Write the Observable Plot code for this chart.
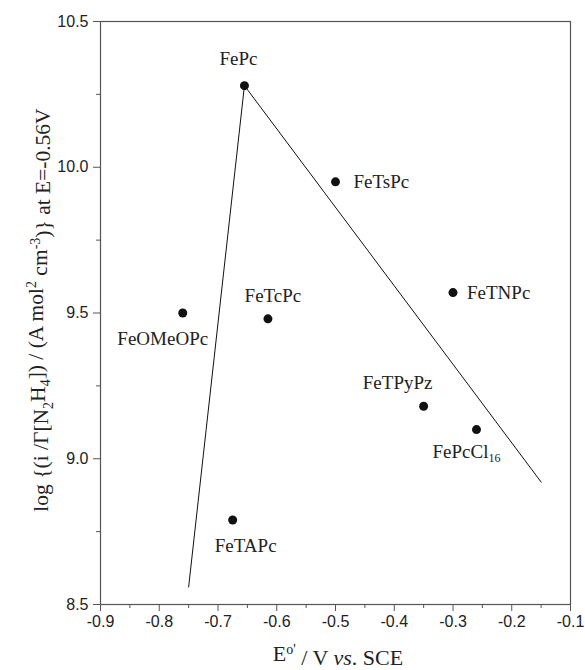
<!DOCTYPE html>
<html>
<head>
<meta charset="utf-8">
<script src="https://cdn.jsdelivr.net/npm/d3@7"></script>
<script src="https://cdn.jsdelivr.net/npm/@observablehq/plot@0.6"></script>
<style>
  html, body { margin: 0; padding: 0; background: #fff; }
  #chart { width: 585px; height: 670px; }
</style>
</head>
<body>
<div id="chart"></div>
<script>
// ---- data ----
const names = ["FePc", "FeTsPc", "FeTNPc", "FeOMeOPc", "FeTcPc", "FeTPyPz", "FePcCl16", "FeTAPc"];
const potentials = [-0.655, -0.50, -0.30, -0.76, -0.615, -0.35, -0.26, -0.675];
const logRates = [10.28, 9.95, 9.57, 9.50, 9.48, 9.18, 9.10, 8.79];

const leftLineX = [-0.75, -0.655];
const leftLineY = [8.56, 10.28];
const rightLineX = [-0.655, -0.15];
const rightLineY = [10.28, 8.92];

const xMajor = [-0.9, -0.8, -0.7, -0.6, -0.5, -0.4, -0.3, -0.2, -0.1];
const xMinor = [-0.85, -0.75, -0.65, -0.55, -0.45, -0.35, -0.25, -0.15];
const yMajor = [8.5, 9.0, 9.5, 10.0, 10.5];
const yMinor = [8.75, 9.25, 9.75, 10.25];

// ---- build ----
const points = names.map((n, i) => ({name: n, x: potentials[i], y: logRates[i]}));
const leftLine = leftLineX.map((x, i) => ({x, y: leftLineY[i]}));
const rightLine = rightLineX.map((x, i) => ({x, y: rightLineY[i]}));

// label placement (offsets in px)
const place = {
  FePc:     {dx: -6,  dy: -27, anchor: "middle"},
  FeTsPc:   {dx: 18,  dy: 0,   anchor: "start"},
  FeTNPc:   {dx: 14,  dy: 0,   anchor: "start"},
  FeOMeOPc: {dx: -20, dy: 26,  anchor: "middle"},
  FeTcPc:   {dx: 5,   dy: -23, anchor: "middle"},
  FeTPyPz:  {dx: -26, dy: -23, anchor: "middle"},
  FePcCl16: {dx: -44, dy: 22,  anchor: "start"},
  FeTAPc:   {dx: 13,  dy: 26,  anchor: "middle"}
};

const axisColor = "#555";
const fmt = d => d.toFixed(1);
const labelMarks = points.map(p => Plot.text([p], {
  x: "x", y: "y", text: "name",
  dx: place[p.name].dx, dy: place[p.name].dy,
  textAnchor: place[p.name].anchor,
  fontFamily: "Liberation Serif", fontSize: 19, fill: "#222"
}));

const chart = Plot.plot({
  width: 585,
  height: 670,
  marginLeft: 100,
  marginRight: 15,
  marginTop: 21,
  marginBottom: 66,
  style: {fontFamily: "Liberation Sans", fontSize: "16px", color: "#222", background: "#fff"},
  x: {domain: [-0.9, -0.1]},
  y: {domain: [8.5, 10.5]},
  marks: [
    Plot.axisX(xMajor, {tickSize: 7, tickPadding: 4, tickFormat: fmt, stroke: axisColor, fontSize: 16, label: null}),
    Plot.axisX(xMinor, {tickSize: 4, tickFormat: () => "", stroke: axisColor, label: null}),
    Plot.axisY(yMajor, {tickSize: 7, tickPadding: 5, tickFormat: fmt, stroke: axisColor, fontSize: 16, label: null}),
    Plot.axisY(yMinor, {tickSize: 4, tickFormat: () => "", stroke: axisColor, label: null}),
    Plot.frame({stroke: axisColor, strokeWidth: 1.2}),
    Plot.line(leftLine, {x: "x", y: "y", stroke: "#111", strokeWidth: 1}),
    Plot.line(rightLine, {x: "x", y: "y", stroke: "#111", strokeWidth: 1}),
    Plot.dot(points, {x: "x", y: "y", r: 4.5, fill: "#111", stroke: "none"}),
    ...labelMarks
  ]
});

document.getElementById("chart").appendChild(chart);

const svg = d3.select(chart);

// subscript in FePcCl16 label
svg.selectAll("text").each(function() {
  if (this.textContent === "FePcCl16") {
    const t = d3.select(this);
    t.text("FePcCl");
    t.append("tspan").attr("dy", "0.35em").attr("font-size", "12px").text("16");
  }
});

// axis titles
const serif = "Liberation Serif";
const xt = svg.append("text")
  .attr("x", 338).attr("y", 661)
  .attr("text-anchor", "middle")
  .attr("font-family", serif).attr("font-size", 22).attr("fill", "#222");
xt.append("tspan").text("E");
xt.append("tspan").attr("dy", "-0.5em").attr("font-size", "14px").text("o'");
xt.append("tspan").attr("dy", "0.5em").text(" / V ");
xt.append("tspan").attr("font-style", "italic").text("vs");
xt.append("tspan").text(". SCE");

const yt = svg.append("text")
  .attr("transform", "translate(48,310) rotate(-90)")
  .attr("text-anchor", "middle")
  .attr("font-family", serif).attr("font-size", 21.5).attr("fill", "#222");
yt.append("tspan").text("log {(i /\u0393[N");
yt.append("tspan").attr("dy", "0.35em").attr("font-size", "14px").text("2");
yt.append("tspan").attr("dy", "-0.35em").text("H");
yt.append("tspan").attr("dy", "0.35em").attr("font-size", "14px").text("4");
yt.append("tspan").attr("dy", "-0.35em").text("]) / (A mol");
yt.append("tspan").attr("dy", "-0.5em").attr("font-size", "14px").text("2");
yt.append("tspan").attr("dy", "0.5em").text(" cm");
yt.append("tspan").attr("dy", "-0.5em").attr("font-size", "14px").text("-3");
yt.append("tspan").attr("dy", "0.5em").text(")} at E=-0.56V");
</script>
</body>
</html>
